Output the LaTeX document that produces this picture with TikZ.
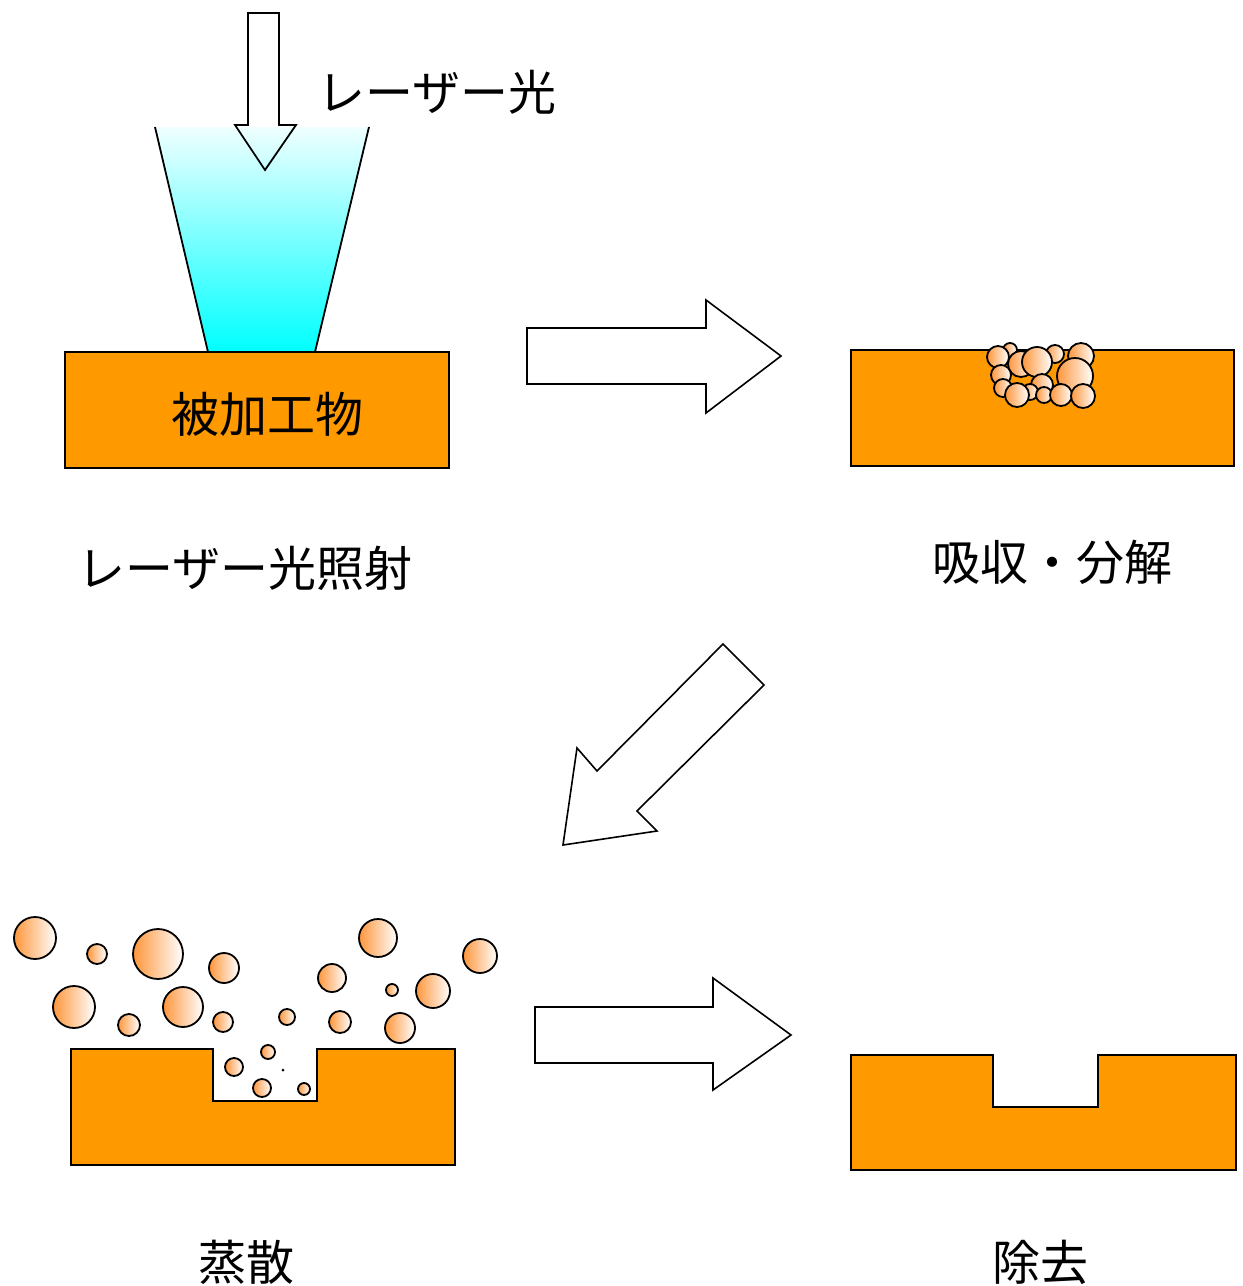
\documentclass[tikz,border=0pt]{standalone}
\usepackage{fontspec}
\newfontfamily\jpfont{Noto Sans CJK JP}
\usetikzlibrary{positioning}
\definecolor{workorange}{RGB}{255,153,0}
\definecolor{chiporange}{RGB}{255,150,60}
\definecolor{laser}{RGB}{0,255,255}
\tikzset{
  % work piece cross section
  work/.style={
    draw = black,
    fill = workorange,
    line width = 1pt,
    inner sep = 0pt
  },
  % evaporated chip of material
  chip/.style={
    draw = black,
    line width = 0.9pt,
    left color = chiporange,
    right color = white
  },
  % hollow block arrow between the steps
  bigarrow/.style={
    draw = black,
    fill = white,
    line width = 0.8pt,
    line join = miter
  },
  caption/.style={
    font = \jpfont\fontsize{24pt}{28pt}\selectfont,
    inner sep = 0pt
  }
}
\begin{document}
\begin{tikzpicture}[x=0.5pt, y=-0.5pt]
  \useasboundingbox (0,0) rectangle (1243,1286);

  % step 1: irradiation
  \shade[top color=laser!6, bottom color=laser]
    (155,127) -- (369,127) -- (315,352) -- (208,352) -- cycle;
  \draw[line width=0.9pt] (155,127) -- (208,352);
  \draw[line width=0.9pt] (369,127) -- (315,352);
  \draw[line width=0.9pt, line join=miter]
    (248,13) -- (279,13) -- (279,125) -- (296,125) -- (265,170)
    -- (235,125) -- (248,125) -- cycle;
  \node[caption] (beam) at (437,92) {レーザー光};

  \node[work, minimum width=192pt, minimum height=58pt] (piece) at (257,410) {};
  \node[caption] (piecetext) at (267,414) {被加工物};
  \node[caption] (step1) at (245,568) {レーザー光照射};

  \draw[bigarrow] (527,328) -- (706,328) -- (706,300) -- (781,356)
    -- (706,413) -- (706,384) -- (527,384) -- cycle;

  % step 2: absorption and decomposition
  \node[work, minimum width=191.5pt, minimum height=58pt] (absorb) at (1042.5,408) {};
  \foreach \x/\y/\r in {1010/350/7, 998/357/11, 1055/354/9, 1021/364/13,
      1037/362/15, 1081/356/13, 1001/375/10, 1042/385/11, 1003/388/9,
      1030/392/8, 1075/376/18, 1017/395/12, 1044/395/8, 1061/395/11,
      1083/396/12}
    \draw[chip] (\x,\y) circle[radius=\r];
  \node[caption] (step2) at (1052,562) {吸収・分解};

  \draw[bigarrow] (723,644) -- (764,685) -- (637,811) -- (657,831)
    -- (563,845) -- (577,748) -- (597,771) -- cycle;

  % step 3: evaporation
  \draw[work] (71,1049) -- (213,1049) -- (213,1101) -- (317,1101)
    -- (317,1049) -- (455,1049) -- (455,1165) -- (71,1165) -- cycle;
  \foreach \x/\y/\r in {35/938/21, 97/954/10, 158/954/25, 224/968/15,
      74/1007/21, 129/1025/11, 183/1007/20, 223/1022/10, 287/1017/8,
      332/978/14, 378/938/19, 480/956/17, 392/990/6, 433/991/17,
      340/1022/11, 400/1028/15, 268/1052/7, 234/1067/9, 262/1088/9,
      304/1089/6}
    \draw[chip] (\x,\y) circle[radius=\r];
  \fill (283,1070) circle[radius=1.5];
  \node[caption] (step3) at (246,1262) {蒸散};

  \draw[bigarrow] (535,1007) -- (713,1007) -- (713,978) -- (791,1035)
    -- (713,1090) -- (713,1063) -- (535,1063) -- cycle;

  % step 4: removed
  \draw[work] (851,1055) -- (993,1055) -- (993,1107) -- (1098,1107)
    -- (1098,1055) -- (1236,1055) -- (1236,1170) -- (851,1170) -- cycle;
  \node[caption] (step4) at (1040,1262) {除去};
\end{tikzpicture}
\end{document}
